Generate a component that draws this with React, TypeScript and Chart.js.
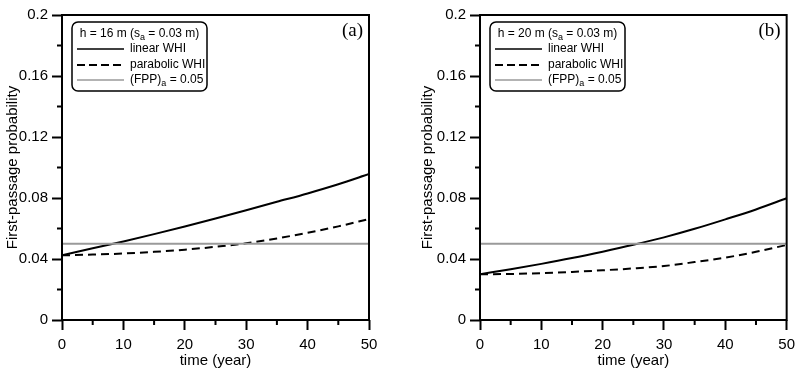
import React, { useEffect, useRef } from "react";
import { Chart, registerables } from "chart.js";
Chart.register(...registerables);

const years = [0, 5, 10, 15, 20, 25, 30, 35, 40, 45, 50];
const linearA = [0.0425, 0.047, 0.0515, 0.0563, 0.0613, 0.0665, 0.072, 0.0775, 0.083, 0.089, 0.0957];
const parabolicA = [0.0424, 0.0429, 0.0436, 0.0447, 0.0461, 0.048, 0.0503, 0.0535, 0.0572, 0.0614, 0.0662];
const linearB = [0.03, 0.0333, 0.0368, 0.0406, 0.0448, 0.0493, 0.0542, 0.0598, 0.066, 0.0725, 0.0798];
const parabolicB = [0.03, 0.0302, 0.0307, 0.0315, 0.0326, 0.0338, 0.0354, 0.038, 0.0409, 0.0447, 0.0492];
const thresholdFPP = 0.05;

const xMajorTicks = [0, 10, 20, 30, 40, 50];
const xTickLabels = ["0", "10", "20", "30", "40", "50"];
const xMinorTicks = [5, 15, 25, 35, 45];
const yMajorTicks = [0, 0.04, 0.08, 0.12, 0.16, 0.2];
const yTickLabels = ["0", "0.04", "0.08", "0.12", "0.16", "0.2"];
const yMinorTicks = [0.02, 0.06, 0.1, 0.14, 0.18];

const seriesNames = ["linear WHI", "parabolic WHI"];
const panelLabels = ["(a)", "(b)"];
const panelHeights = ["16", "20"];

const FONT = "'Liberation Sans', Arial, Helvetica, sans-serif";
const GREY = "#9a9a9a";

type Seg = { t: string; sub?: boolean };

function drawRich(ctx: CanvasRenderingContext2D, segs: Seg[], x: number, y: number, align: "left" | "center") {
  const main = `12px ${FONT}`;
  const sub = `9px ${FONT}`;
  let total = 0;
  segs.forEach((s) => {
    ctx.font = s.sub ? sub : main;
    total += ctx.measureText(s.t).width;
  });
  let cx = align === "center" ? x - total / 2 : x;
  ctx.textAlign = "left";
  ctx.textBaseline = "middle";
  segs.forEach((s) => {
    ctx.font = s.sub ? sub : main;
    ctx.fillText(s.t, cx, s.sub ? y + 4 : y);
    cx += ctx.measureText(s.t).width;
  });
}

function Panel({ idx, linear, parabolic, yAxisWidth, titlePad, rightPad, width }: any) {
  const ref = useRef<HTMLCanvasElement>(null);
  useEffect(() => {
    const canvas = ref.current!;
    const decor = {
      id: "decor" + idx,
      afterDraw(chart: any) {
        const ctx: CanvasRenderingContext2D = chart.ctx;
        const a = chart.chartArea;
        const xs = chart.scales.x;
        const ys = chart.scales.y;
        ctx.save();
        ctx.strokeStyle = "#000";
        ctx.lineWidth = 2;
        ctx.strokeRect(a.left, a.top, a.right - a.left, a.bottom - a.top);
        ctx.beginPath();
        xMinorTicks.forEach((v) => {
          const px = xs.getPixelForValue(v);
          ctx.moveTo(px, a.bottom);
          ctx.lineTo(px, a.bottom + 5);
        });
        yMinorTicks.forEach((v) => {
          const py = ys.getPixelForValue(v);
          ctx.moveTo(a.left, py);
          ctx.lineTo(a.left - 5, py);
        });
        ctx.stroke();
        ctx.fillStyle = "#000";
        ctx.font = `19px 'Liberation Serif', 'Times New Roman', serif`;
        ctx.textAlign = "right";
        ctx.textBaseline = "middle";
        ctx.fillText(panelLabels[idx], a.right - 6, a.top + 16);
        const bx = a.left + 10;
        const by = a.top + 7;
        const bw = 135;
        const bh = 69;
        ctx.beginPath();
        (ctx as any).roundRect(bx, by, bw, bh, 6);
        ctx.fillStyle = "#fff";
        ctx.fill();
        ctx.lineWidth = 1.5;
        ctx.strokeStyle = "#000";
        ctx.stroke();
        ctx.fillStyle = "#000";
        drawRich(ctx, [{ t: `h = ${panelHeights[idx]} m (s` }, { t: "a", sub: true }, { t: " = 0.03 m)" }], bx + bw / 2, by + 12, "center");
        const rows = [by + 27, by + 43, by + 58];
        const styles = [
          { c: "#000", d: [] as number[], w: 1.6 },
          { c: "#000", d: [8, 4], w: 2 },
          { c: GREY, d: [] as number[], w: 1.5 },
        ];
        rows.forEach((ry, i) => {
          ctx.beginPath();
          ctx.strokeStyle = styles[i].c;
          ctx.lineWidth = styles[i].w;
          ctx.setLineDash(styles[i].d);
          ctx.moveTo(bx + 5, ry);
          ctx.lineTo(bx + 52, ry);
          ctx.stroke();
        });
        ctx.setLineDash([]);
        ctx.fillStyle = "#000";
        drawRich(ctx, [{ t: seriesNames[0] }], bx + 58, rows[0], "left");
        drawRich(ctx, [{ t: seriesNames[1] }], bx + 58, rows[1], "left");
        drawRich(ctx, [{ t: "(FPP)" }, { t: "a", sub: true }, { t: ` = ${thresholdFPP}` }], bx + 58, rows[2], "left");
        ctx.restore();
      },
    };
    const chart = new Chart(canvas, {
      type: "line",
      data: {
        datasets: [
          {
            data: [
              { x: years[0], y: thresholdFPP },
              { x: years[years.length - 1], y: thresholdFPP },
            ],
            borderColor: GREY,
            borderWidth: 2,
            pointRadius: 0,
          },
          {
            data: years.map((t, i) => ({ x: t, y: parabolic[i] })),
            borderColor: "#000",
            borderWidth: 2,
            borderDash: [8, 5],
            pointRadius: 0,
            cubicInterpolationMode: "monotone",
          },
          {
            data: years.map((t, i) => ({ x: t, y: linear[i] })),
            borderColor: "#000",
            borderWidth: 2,
            pointRadius: 0,
            cubicInterpolationMode: "monotone",
          },
        ],
      },
      options: {
        animation: false,
        responsive: false,
        events: [],
        layout: { padding: { left: 0, right: rightPad, top: 15, bottom: 0 } },
        plugins: { legend: { display: false }, tooltip: { enabled: false } },
        scales: {
          x: {
            type: "linear",
            min: 0,
            max: 50,
            afterFit: (s: any) => {
              s.height = 55;
            },
            afterBuildTicks: (s: any) => {
              s.ticks = xMajorTicks.map((v) => ({ value: v }));
            },
            ticks: {
              autoSkip: false,
              maxRotation: 0,
              padding: 6,
              color: "#000",
              font: { family: FONT, size: 15 },
              callback: (v: any) => xTickLabels[xMajorTicks.indexOf(v)] ?? "",
            },
            grid: { drawOnChartArea: false, drawTicks: true, tickLength: 10, tickWidth: 2, tickColor: "#000", color: "#000" },
            border: { display: false },
            title: {
              display: true,
              text: "time (year)",
              color: "#000",
              font: { family: FONT, size: 15 },
              padding: { top: 0, bottom: 5 },
            },
          },
          y: {
            type: "linear",
            min: 0,
            max: 0.2,
            afterFit: (s: any) => {
              s.width = yAxisWidth;
            },
            afterBuildTicks: (s: any) => {
              s.ticks = yMajorTicks.map((v) => ({ value: v }));
            },
            ticks: {
              autoSkip: false,
              padding: 4,
              color: "#000",
              font: { family: FONT, size: 15 },
              callback: (v: any) => {
                const i = yMajorTicks.findIndex((t) => Math.abs(t - v) < 1e-9);
                return i >= 0 ? yTickLabels[i] : "";
              },
            },
            grid: { drawOnChartArea: false, drawTicks: true, tickLength: 10, tickWidth: 2, tickColor: "#000", color: "#000" },
            border: { display: false },
            title: {
              display: true,
              text: "First-passage probability",
              color: "#000",
              font: { family: FONT, size: 15 },
              padding: { top: titlePad - 1, bottom: 0 },
            },
          },
        },
      },
      plugins: [decor],
    } as any);
    return () => chart.destroy();
  }, []);
  return <canvas ref={ref} width={width} height={375} style={{ display: "block", width, height: 375 }} />;
}

export default function App() {
  return (
    <div style={{ position: "absolute", left: 0, top: 0, width: 801, height: 375, display: "flex", background: "#fff" }}>
      <Panel idx={0} linear={linearA} parabolic={parabolicA} yAxisWidth={62} titlePad={5} rightPad={31} width={400} />
      <Panel idx={1} linear={linearB} parabolic={parabolicB} yAxisWidth={80} titlePad={20} rightPad={14} width={401} />
    </div>
  );
}
